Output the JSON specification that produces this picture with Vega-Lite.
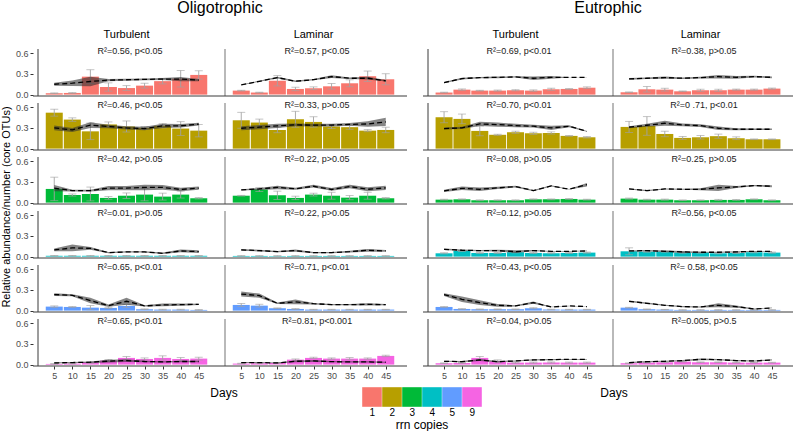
{
"$schema": "https://vega.github.io/schema/vega-lite/v6.json",
"background": "white",
"padding": {"left": 0, "top": 0, "right": 0, "bottom": 0},
"datasets": {"main": [
{"e":"O","f":"Turbulent","r":"1","d":5,"v":0.02,"lo":0.015,"hi":0.025,"m":0.15,"a":0.13,"b":0.17},
{"e":"O","f":"Turbulent","r":"1","d":10,"v":0.024,"lo":0.019,"hi":0.029,"m":0.165,"a":0.125,"b":0.205},
{"e":"O","f":"Turbulent","r":"1","d":15,"v":0.26,"lo":0.16,"hi":0.36,"m":0.19,"a":0.12,"b":0.26},
{"e":"O","f":"Turbulent","r":"1","d":20,"v":0.11,"lo":0.05,"hi":0.17,"m":0.21,"a":0.195,"b":0.225},
{"e":"O","f":"Turbulent","r":"1","d":25,"v":0.095,"lo":0.06,"hi":0.13,"m":0.215,"a":0.2,"b":0.23},
{"e":"O","f":"Turbulent","r":"1","d":30,"v":0.13,"lo":0.095,"hi":0.165,"m":0.22,"a":0.208,"b":0.232},
{"e":"O","f":"Turbulent","r":"1","d":35,"v":0.195,"lo":0.155,"hi":0.235,"m":0.225,"a":0.21,"b":0.24},
{"e":"O","f":"Turbulent","r":"1","d":40,"v":0.23,"lo":0.11,"hi":0.35,"m":0.225,"a":0.195,"b":0.255},
{"e":"O","f":"Turbulent","r":"1","d":45,"v":0.285,"lo":0.225,"hi":0.345,"m":0.21,"a":0.195,"b":0.225},
{"e":"O","f":"Turbulent","r":"2","d":5,"v":0.52,"lo":0.47,"hi":0.57,"m":0.3,"a":0.265,"b":0.335},
{"e":"O","f":"Turbulent","r":"2","d":10,"v":0.42,"lo":0.395,"hi":0.445,"m":0.27,"a":0.24,"b":0.3},
{"e":"O","f":"Turbulent","r":"2","d":15,"v":0.25,"lo":0.13,"hi":0.37,"m":0.34,"a":0.3,"b":0.38},
{"e":"O","f":"Turbulent","r":"2","d":20,"v":0.35,"lo":0.314,"hi":0.386,"m":0.32,"a":0.295,"b":0.345},
{"e":"O","f":"Turbulent","r":"2","d":25,"v":0.32,"lo":0.24,"hi":0.4,"m":0.3,"a":0.275,"b":0.325},
{"e":"O","f":"Turbulent","r":"2","d":30,"v":0.3,"lo":0.28,"hi":0.32,"m":0.29,"a":0.265,"b":0.315},
{"e":"O","f":"Turbulent","r":"2","d":35,"v":0.33,"lo":0.3,"hi":0.36,"m":0.33,"a":0.3,"b":0.36},
{"e":"O","f":"Turbulent","r":"2","d":40,"v":0.29,"lo":0.19,"hi":0.39,"m":0.33,"a":0.305,"b":0.355},
{"e":"O","f":"Turbulent","r":"2","d":45,"v":0.26,"lo":0.17,"hi":0.35,"m":0.355,"a":0.335,"b":0.375},
{"e":"O","f":"Turbulent","r":"3","d":5,"v":0.198,"lo":0.028,"hi":0.368,"m":0.21,"a":0.165,"b":0.255},
{"e":"O","f":"Turbulent","r":"3","d":10,"v":0.11,"lo":0.095,"hi":0.125,"m":0.174,"a":0.162,"b":0.186},
{"e":"O","f":"Turbulent","r":"3","d":15,"v":0.125,"lo":0.025,"hi":0.225,"m":0.174,"a":0.162,"b":0.186},
{"e":"O","f":"Turbulent","r":"3","d":20,"v":0.068,"lo":0.048,"hi":0.088,"m":0.21,"a":0.18,"b":0.24},
{"e":"O","f":"Turbulent","r":"3","d":25,"v":0.1,"lo":0.06,"hi":0.14,"m":0.21,"a":0.18,"b":0.24},
{"e":"O","f":"Turbulent","r":"3","d":30,"v":0.116,"lo":0.026,"hi":0.206,"m":0.22,"a":0.18,"b":0.26},
{"e":"O","f":"Turbulent","r":"3","d":35,"v":0.087,"lo":0.037,"hi":0.137,"m":0.22,"a":0.185,"b":0.255},
{"e":"O","f":"Turbulent","r":"3","d":40,"v":0.116,"lo":0.066,"hi":0.166,"m":0.19,"a":0.165,"b":0.215},
{"e":"O","f":"Turbulent","r":"3","d":45,"v":0.063,"lo":0.053,"hi":0.073,"m":0.21,"a":0.185,"b":0.235},
{"e":"O","f":"Turbulent","r":"4","d":5,"v":0.012,"lo":0.008,"hi":0.016,"m":0.097,"a":0.077,"b":0.117},
{"e":"O","f":"Turbulent","r":"4","d":10,"v":0.012,"lo":0.008,"hi":0.016,"m":0.126,"a":0.076,"b":0.176},
{"e":"O","f":"Turbulent","r":"4","d":15,"v":0.012,"lo":0.008,"hi":0.016,"m":0.12,"a":0.1,"b":0.14},
{"e":"O","f":"Turbulent","r":"4","d":20,"v":0.012,"lo":0.008,"hi":0.016,"m":0.058,"a":0.048,"b":0.068},
{"e":"O","f":"Turbulent","r":"4","d":25,"v":0.012,"lo":0.008,"hi":0.016,"m":0.068,"a":0.058,"b":0.078},
{"e":"O","f":"Turbulent","r":"4","d":30,"v":0.012,"lo":0.008,"hi":0.016,"m":0.068,"a":0.058,"b":0.078},
{"e":"O","f":"Turbulent","r":"4","d":35,"v":0.012,"lo":0.008,"hi":0.016,"m":0.048,"a":0.038,"b":0.058},
{"e":"O","f":"Turbulent","r":"4","d":40,"v":0.012,"lo":0.008,"hi":0.016,"m":0.082,"a":0.062,"b":0.102},
{"e":"O","f":"Turbulent","r":"4","d":45,"v":0.012,"lo":0.008,"hi":0.016,"m":0.072,"a":0.052,"b":0.092},
{"e":"O","f":"Turbulent","r":"5","d":5,"v":0.058,"lo":0.048,"hi":0.068,"m":0.232,"a":0.212,"b":0.252},
{"e":"O","f":"Turbulent","r":"5","d":10,"v":0.053,"lo":0.048,"hi":0.058,"m":0.222,"a":0.207,"b":0.237},
{"e":"O","f":"Turbulent","r":"5","d":15,"v":0.043,"lo":0.013,"hi":0.073,"m":0.145,"a":0.105,"b":0.185},
{"e":"O","f":"Turbulent","r":"5","d":20,"v":0.039,"lo":0.029,"hi":0.049,"m":0.072,"a":0.057,"b":0.087},
{"e":"O","f":"Turbulent","r":"5","d":25,"v":0.068,"lo":0.048,"hi":0.088,"m":0.135,"a":0.085,"b":0.185},
{"e":"O","f":"Turbulent","r":"5","d":30,"v":0.02,"lo":0.015,"hi":0.025,"m":0.068,"a":0.058,"b":0.078},
{"e":"O","f":"Turbulent","r":"5","d":35,"v":0.015,"lo":0.01,"hi":0.02,"m":0.082,"a":0.062,"b":0.102},
{"e":"O","f":"Turbulent","r":"5","d":40,"v":0.015,"lo":0.01,"hi":0.02,"m":0.087,"a":0.072,"b":0.102},
{"e":"O","f":"Turbulent","r":"5","d":45,"v":0.01,"lo":0.005,"hi":0.015,"m":0.09,"a":0.08,"b":0.1},
{"e":"O","f":"Turbulent","r":"9","d":5,"v":0.01,"lo":0.005,"hi":0.015,"m":0.025,"a":0.017,"b":0.033},
{"e":"O","f":"Turbulent","r":"9","d":10,"v":0.015,"lo":0.01,"hi":0.02,"m":0.03,"a":0.022,"b":0.038},
{"e":"O","f":"Turbulent","r":"9","d":15,"v":0.03,"lo":0.02,"hi":0.04,"m":0.035,"a":0.025,"b":0.045},
{"e":"O","f":"Turbulent","r":"9","d":20,"v":0.058,"lo":0.043,"hi":0.073,"m":0.05,"a":0.03,"b":0.07},
{"e":"O","f":"Turbulent","r":"9","d":25,"v":0.097,"lo":0.077,"hi":0.117,"m":0.058,"a":0.038,"b":0.078},
{"e":"O","f":"Turbulent","r":"9","d":30,"v":0.082,"lo":0.067,"hi":0.097,"m":0.045,"a":0.033,"b":0.057},
{"e":"O","f":"Turbulent","r":"9","d":35,"v":0.097,"lo":0.067,"hi":0.127,"m":0.04,"a":0.03,"b":0.05},
{"e":"O","f":"Turbulent","r":"9","d":40,"v":0.082,"lo":0.062,"hi":0.102,"m":0.045,"a":0.035,"b":0.055},
{"e":"O","f":"Turbulent","r":"9","d":45,"v":0.087,"lo":0.067,"hi":0.107,"m":0.045,"a":0.035,"b":0.055},
{"e":"O","f":"Laminar","r":"1","d":5,"v":0.058,"lo":0.053,"hi":0.063,"m":0.14,"a":0.135,"b":0.145},
{"e":"O","f":"Laminar","r":"1","d":10,"v":0.03,"lo":0.025,"hi":0.035,"m":0.193,"a":0.185,"b":0.201},
{"e":"O","f":"Laminar","r":"1","d":15,"v":0.2,"lo":0.125,"hi":0.275,"m":0.246,"a":0.234,"b":0.258},
{"e":"O","f":"Laminar","r":"1","d":20,"v":0.082,"lo":0.057,"hi":0.107,"m":0.193,"a":0.183,"b":0.203},
{"e":"O","f":"Laminar","r":"1","d":25,"v":0.092,"lo":0.072,"hi":0.112,"m":0.217,"a":0.207,"b":0.227},
{"e":"O","f":"Laminar","r":"1","d":30,"v":0.12,"lo":0.08,"hi":0.16,"m":0.26,"a":0.24,"b":0.28},
{"e":"O","f":"Laminar","r":"1","d":35,"v":0.164,"lo":0.114,"hi":0.214,"m":0.237,"a":0.225,"b":0.249},
{"e":"O","f":"Laminar","r":"1","d":40,"v":0.266,"lo":0.191,"hi":0.341,"m":0.237,"a":0.217,"b":0.257},
{"e":"O","f":"Laminar","r":"1","d":45,"v":0.222,"lo":0.142,"hi":0.302,"m":0.2,"a":0.188,"b":0.212},
{"e":"O","f":"Laminar","r":"2","d":5,"v":0.41,"lo":0.295,"hi":0.525,"m":0.295,"a":0.265,"b":0.325},
{"e":"O","f":"Laminar","r":"2","d":10,"v":0.377,"lo":0.327,"hi":0.427,"m":0.31,"a":0.28,"b":0.34},
{"e":"O","f":"Laminar","r":"2","d":15,"v":0.27,"lo":0.23,"hi":0.31,"m":0.33,"a":0.3,"b":0.36},
{"e":"O","f":"Laminar","r":"2","d":20,"v":0.425,"lo":0.31,"hi":0.54,"m":0.343,"a":0.323,"b":0.363},
{"e":"O","f":"Laminar","r":"2","d":25,"v":0.386,"lo":0.311,"hi":0.461,"m":0.34,"a":0.32,"b":0.36},
{"e":"O","f":"Laminar","r":"2","d":30,"v":0.32,"lo":0.29,"hi":0.35,"m":0.34,"a":0.32,"b":0.36},
{"e":"O","f":"Laminar","r":"2","d":35,"v":0.31,"lo":0.28,"hi":0.34,"m":0.35,"a":0.33,"b":0.37},
{"e":"O","f":"Laminar","r":"2","d":40,"v":0.26,"lo":0.245,"hi":0.275,"m":0.357,"a":0.317,"b":0.397},
{"e":"O","f":"Laminar","r":"2","d":45,"v":0.27,"lo":0.23,"hi":0.31,"m":0.386,"a":0.326,"b":0.446},
{"e":"O","f":"Laminar","r":"3","d":5,"v":0.1,"lo":0.095,"hi":0.105,"m":0.184,"a":0.174,"b":0.194},
{"e":"O","f":"Laminar","r":"3","d":10,"v":0.19,"lo":0.16,"hi":0.22,"m":0.198,"a":0.183,"b":0.213},
{"e":"O","f":"Laminar","r":"3","d":15,"v":0.106,"lo":0.046,"hi":0.166,"m":0.22,"a":0.195,"b":0.245},
{"e":"O","f":"Laminar","r":"3","d":20,"v":0.068,"lo":0.043,"hi":0.093,"m":0.2,"a":0.185,"b":0.215},
{"e":"O","f":"Laminar","r":"3","d":25,"v":0.116,"lo":0.096,"hi":0.136,"m":0.237,"a":0.217,"b":0.257},
{"e":"O","f":"Laminar","r":"3","d":30,"v":0.1,"lo":0.05,"hi":0.15,"m":0.19,"a":0.17,"b":0.21},
{"e":"O","f":"Laminar","r":"3","d":35,"v":0.072,"lo":0.042,"hi":0.102,"m":0.232,"a":0.207,"b":0.257},
{"e":"O","f":"Laminar","r":"3","d":40,"v":0.1,"lo":0.05,"hi":0.15,"m":0.193,"a":0.163,"b":0.223},
{"e":"O","f":"Laminar","r":"3","d":45,"v":0.063,"lo":0.053,"hi":0.073,"m":0.213,"a":0.183,"b":0.243},
{"e":"O","f":"Laminar","r":"4","d":5,"v":0.01,"lo":0.006,"hi":0.014,"m":0.097,"a":0.085,"b":0.109},
{"e":"O","f":"Laminar","r":"4","d":10,"v":0.01,"lo":0.006,"hi":0.014,"m":0.087,"a":0.075,"b":0.099},
{"e":"O","f":"Laminar","r":"4","d":15,"v":0.01,"lo":0.006,"hi":0.014,"m":0.072,"a":0.062,"b":0.082},
{"e":"O","f":"Laminar","r":"4","d":20,"v":0.01,"lo":0.006,"hi":0.014,"m":0.087,"a":0.072,"b":0.102},
{"e":"O","f":"Laminar","r":"4","d":25,"v":0.01,"lo":0.006,"hi":0.014,"m":0.058,"a":0.05,"b":0.066},
{"e":"O","f":"Laminar","r":"4","d":30,"v":0.01,"lo":0.006,"hi":0.014,"m":0.058,"a":0.05,"b":0.066},
{"e":"O","f":"Laminar","r":"4","d":35,"v":0.01,"lo":0.006,"hi":0.014,"m":0.072,"a":0.06,"b":0.084},
{"e":"O","f":"Laminar","r":"4","d":40,"v":0.01,"lo":0.006,"hi":0.014,"m":0.092,"a":0.072,"b":0.112},
{"e":"O","f":"Laminar","r":"4","d":45,"v":0.01,"lo":0.006,"hi":0.014,"m":0.082,"a":0.07,"b":0.094},
{"e":"O","f":"Laminar","r":"5","d":5,"v":0.082,"lo":0.062,"hi":0.102,"m":0.24,"a":0.205,"b":0.275},
{"e":"O","f":"Laminar","r":"5","d":10,"v":0.072,"lo":0.052,"hi":0.092,"m":0.217,"a":0.187,"b":0.247},
{"e":"O","f":"Laminar","r":"5","d":15,"v":0.034,"lo":0.029,"hi":0.039,"m":0.106,"a":0.096,"b":0.116},
{"e":"O","f":"Laminar","r":"5","d":20,"v":0.024,"lo":0.019,"hi":0.029,"m":0.126,"a":0.091,"b":0.161},
{"e":"O","f":"Laminar","r":"5","d":25,"v":0.015,"lo":0.011,"hi":0.019,"m":0.1,"a":0.09,"b":0.11},
{"e":"O","f":"Laminar","r":"5","d":30,"v":0.015,"lo":0.011,"hi":0.019,"m":0.087,"a":0.079,"b":0.095},
{"e":"O","f":"Laminar","r":"5","d":35,"v":0.015,"lo":0.011,"hi":0.019,"m":0.087,"a":0.079,"b":0.095},
{"e":"O","f":"Laminar","r":"5","d":40,"v":0.015,"lo":0.011,"hi":0.019,"m":0.09,"a":0.075,"b":0.105},
{"e":"O","f":"Laminar","r":"5","d":45,"v":0.015,"lo":0.011,"hi":0.019,"m":0.087,"a":0.079,"b":0.095},
{"e":"O","f":"Laminar","r":"9","d":5,"v":0.015,"lo":0.01,"hi":0.02,"m":0.03,"a":0.022,"b":0.038},
{"e":"O","f":"Laminar","r":"9","d":10,"v":0.02,"lo":0.015,"hi":0.025,"m":0.03,"a":0.022,"b":0.038},
{"e":"O","f":"Laminar","r":"9","d":15,"v":0.024,"lo":0.019,"hi":0.029,"m":0.024,"a":0.018,"b":0.03},
{"e":"O","f":"Laminar","r":"9","d":20,"v":0.072,"lo":0.062,"hi":0.082,"m":0.048,"a":0.036,"b":0.06},
{"e":"O","f":"Laminar","r":"9","d":25,"v":0.097,"lo":0.087,"hi":0.107,"m":0.053,"a":0.038,"b":0.068},
{"e":"O","f":"Laminar","r":"9","d":30,"v":0.087,"lo":0.077,"hi":0.097,"m":0.043,"a":0.033,"b":0.053},
{"e":"O","f":"Laminar","r":"9","d":35,"v":0.087,"lo":0.072,"hi":0.102,"m":0.039,"a":0.029,"b":0.049},
{"e":"O","f":"Laminar","r":"9","d":40,"v":0.087,"lo":0.077,"hi":0.097,"m":0.039,"a":0.029,"b":0.049},
{"e":"O","f":"Laminar","r":"9","d":45,"v":0.126,"lo":0.116,"hi":0.136,"m":0.034,"a":0.026,"b":0.042},
{"e":"E","f":"Turbulent","r":"1","d":5,"v":0.03,"lo":0.025,"hi":0.035,"m":0.174,"a":0.166,"b":0.182},
{"e":"E","f":"Turbulent","r":"1","d":10,"v":0.072,"lo":0.062,"hi":0.082,"m":0.232,"a":0.22,"b":0.244},
{"e":"E","f":"Turbulent","r":"1","d":15,"v":0.058,"lo":0.053,"hi":0.063,"m":0.246,"a":0.236,"b":0.256},
{"e":"E","f":"Turbulent","r":"1","d":20,"v":0.058,"lo":0.05,"hi":0.066,"m":0.25,"a":0.238,"b":0.262},
{"e":"E","f":"Turbulent","r":"1","d":25,"v":0.063,"lo":0.055,"hi":0.071,"m":0.256,"a":0.248,"b":0.264},
{"e":"E","f":"Turbulent","r":"1","d":30,"v":0.058,"lo":0.048,"hi":0.068,"m":0.237,"a":0.212,"b":0.262},
{"e":"E","f":"Turbulent","r":"1","d":35,"v":0.077,"lo":0.062,"hi":0.092,"m":0.25,"a":0.23,"b":0.27},
{"e":"E","f":"Turbulent","r":"1","d":40,"v":0.082,"lo":0.077,"hi":0.087,"m":0.25,"a":0.247,"b":0.253},
{"e":"E","f":"Turbulent","r":"1","d":45,"v":0.1,"lo":0.088,"hi":0.112,"m":0.25,"a":0.247,"b":0.253},
{"e":"E","f":"Turbulent","r":"2","d":5,"v":0.454,"lo":0.374,"hi":0.534,"m":0.29,"a":0.275,"b":0.305},
{"e":"E","f":"Turbulent","r":"2","d":10,"v":0.43,"lo":0.36,"hi":0.5,"m":0.3,"a":0.285,"b":0.315},
{"e":"E","f":"Turbulent","r":"2","d":15,"v":0.256,"lo":0.186,"hi":0.326,"m":0.357,"a":0.327,"b":0.387},
{"e":"E","f":"Turbulent","r":"2","d":20,"v":0.2,"lo":0.192,"hi":0.208,"m":0.348,"a":0.318,"b":0.378},
{"e":"E","f":"Turbulent","r":"2","d":25,"v":0.237,"lo":0.222,"hi":0.252,"m":0.333,"a":0.308,"b":0.358},
{"e":"E","f":"Turbulent","r":"2","d":30,"v":0.222,"lo":0.207,"hi":0.237,"m":0.324,"a":0.304,"b":0.344},
{"e":"E","f":"Turbulent","r":"2","d":35,"v":0.227,"lo":0.212,"hi":0.242,"m":0.3,"a":0.27,"b":0.33},
{"e":"E","f":"Turbulent","r":"2","d":40,"v":0.184,"lo":0.179,"hi":0.189,"m":0.324,"a":0.309,"b":0.339},
{"e":"E","f":"Turbulent","r":"2","d":45,"v":0.164,"lo":0.154,"hi":0.174,"m":0.25,"a":0.245,"b":0.255},
{"e":"E","f":"Turbulent","r":"3","d":5,"v":0.043,"lo":0.037,"hi":0.049,"m":0.17,"a":0.155,"b":0.185},
{"e":"E","f":"Turbulent","r":"3","d":10,"v":0.048,"lo":0.042,"hi":0.054,"m":0.207,"a":0.182,"b":0.232},
{"e":"E","f":"Turbulent","r":"3","d":15,"v":0.034,"lo":0.028,"hi":0.04,"m":0.193,"a":0.168,"b":0.218},
{"e":"E","f":"Turbulent","r":"3","d":20,"v":0.034,"lo":0.028,"hi":0.04,"m":0.213,"a":0.198,"b":0.228},
{"e":"E","f":"Turbulent","r":"3","d":25,"v":0.034,"lo":0.028,"hi":0.04,"m":0.232,"a":0.22,"b":0.244},
{"e":"E","f":"Turbulent","r":"3","d":30,"v":0.048,"lo":0.042,"hi":0.054,"m":0.174,"a":0.166,"b":0.182},
{"e":"E","f":"Turbulent","r":"3","d":35,"v":0.048,"lo":0.042,"hi":0.054,"m":0.242,"a":0.234,"b":0.25},
{"e":"E","f":"Turbulent","r":"3","d":40,"v":0.053,"lo":0.047,"hi":0.059,"m":0.193,"a":0.188,"b":0.198},
{"e":"E","f":"Turbulent","r":"3","d":45,"v":0.043,"lo":0.037,"hi":0.049,"m":0.26,"a":0.235,"b":0.285},
{"e":"E","f":"Turbulent","r":"4","d":5,"v":0.048,"lo":0.04,"hi":0.056,"m":0.106,"a":0.094,"b":0.118},
{"e":"E","f":"Turbulent","r":"4","d":10,"v":0.082,"lo":0.074,"hi":0.09,"m":0.092,"a":0.082,"b":0.102},
{"e":"E","f":"Turbulent","r":"4","d":15,"v":0.053,"lo":0.045,"hi":0.061,"m":0.087,"a":0.077,"b":0.097},
{"e":"E","f":"Turbulent","r":"4","d":20,"v":0.053,"lo":0.045,"hi":0.061,"m":0.087,"a":0.075,"b":0.099},
{"e":"E","f":"Turbulent","r":"4","d":25,"v":0.063,"lo":0.055,"hi":0.071,"m":0.072,"a":0.052,"b":0.092},
{"e":"E","f":"Turbulent","r":"4","d":30,"v":0.053,"lo":0.045,"hi":0.061,"m":0.087,"a":0.079,"b":0.095},
{"e":"E","f":"Turbulent","r":"4","d":35,"v":0.048,"lo":0.04,"hi":0.056,"m":0.077,"a":0.071,"b":0.083},
{"e":"E","f":"Turbulent","r":"4","d":40,"v":0.053,"lo":0.045,"hi":0.061,"m":0.077,"a":0.071,"b":0.083},
{"e":"E","f":"Turbulent","r":"4","d":45,"v":0.058,"lo":0.05,"hi":0.066,"m":0.082,"a":0.076,"b":0.088},
{"e":"E","f":"Turbulent","r":"5","d":5,"v":0.053,"lo":0.048,"hi":0.058,"m":0.232,"a":0.212,"b":0.252},
{"e":"E","f":"Turbulent","r":"5","d":10,"v":0.024,"lo":0.02,"hi":0.028,"m":0.164,"a":0.124,"b":0.204},
{"e":"E","f":"Turbulent","r":"5","d":15,"v":0.02,"lo":0.016,"hi":0.024,"m":0.116,"a":0.081,"b":0.151},
{"e":"E","f":"Turbulent","r":"5","d":20,"v":0.02,"lo":0.016,"hi":0.024,"m":0.077,"a":0.057,"b":0.097},
{"e":"E","f":"Turbulent","r":"5","d":25,"v":0.02,"lo":0.016,"hi":0.024,"m":0.068,"a":0.058,"b":0.078},
{"e":"E","f":"Turbulent","r":"5","d":30,"v":0.034,"lo":0.026,"hi":0.042,"m":0.116,"a":0.101,"b":0.131},
{"e":"E","f":"Turbulent","r":"5","d":35,"v":0.015,"lo":0.011,"hi":0.019,"m":0.053,"a":0.05,"b":0.056},
{"e":"E","f":"Turbulent","r":"5","d":40,"v":0.015,"lo":0.011,"hi":0.019,"m":0.068,"a":0.065,"b":0.071},
{"e":"E","f":"Turbulent","r":"5","d":45,"v":0.015,"lo":0.011,"hi":0.019,"m":0.058,"a":0.055,"b":0.061},
{"e":"E","f":"Turbulent","r":"9","d":5,"v":0.02,"lo":0.015,"hi":0.025,"m":0.048,"a":0.04,"b":0.056},
{"e":"E","f":"Turbulent","r":"9","d":10,"v":0.024,"lo":0.019,"hi":0.029,"m":0.043,"a":0.035,"b":0.051},
{"e":"E","f":"Turbulent","r":"9","d":15,"v":0.097,"lo":0.077,"hi":0.117,"m":0.068,"a":0.053,"b":0.083},
{"e":"E","f":"Turbulent","r":"9","d":20,"v":0.048,"lo":0.028,"hi":0.068,"m":0.043,"a":0.033,"b":0.053},
{"e":"E","f":"Turbulent","r":"9","d":25,"v":0.029,"lo":0.021,"hi":0.037,"m":0.053,"a":0.045,"b":0.061},
{"e":"E","f":"Turbulent","r":"9","d":30,"v":0.029,"lo":0.021,"hi":0.037,"m":0.068,"a":0.058,"b":0.078},
{"e":"E","f":"Turbulent","r":"9","d":35,"v":0.029,"lo":0.021,"hi":0.037,"m":0.072,"a":0.064,"b":0.08},
{"e":"E","f":"Turbulent","r":"9","d":40,"v":0.029,"lo":0.021,"hi":0.037,"m":0.077,"a":0.071,"b":0.083},
{"e":"E","f":"Turbulent","r":"9","d":45,"v":0.029,"lo":0.021,"hi":0.037,"m":0.077,"a":0.071,"b":0.083},
{"e":"E","f":"Laminar","r":"1","d":5,"v":0.034,"lo":0.029,"hi":0.039,"m":0.227,"a":0.215,"b":0.239},
{"e":"E","f":"Laminar","r":"1","d":10,"v":0.077,"lo":0.037,"hi":0.117,"m":0.237,"a":0.227,"b":0.247},
{"e":"E","f":"Laminar","r":"1","d":15,"v":0.072,"lo":0.052,"hi":0.092,"m":0.246,"a":0.231,"b":0.261},
{"e":"E","f":"Laminar","r":"1","d":20,"v":0.048,"lo":0.043,"hi":0.053,"m":0.237,"a":0.227,"b":0.247},
{"e":"E","f":"Laminar","r":"1","d":25,"v":0.063,"lo":0.048,"hi":0.078,"m":0.246,"a":0.234,"b":0.258},
{"e":"E","f":"Laminar","r":"1","d":30,"v":0.063,"lo":0.048,"hi":0.078,"m":0.26,"a":0.235,"b":0.285},
{"e":"E","f":"Laminar","r":"1","d":35,"v":0.072,"lo":0.064,"hi":0.08,"m":0.25,"a":0.23,"b":0.27},
{"e":"E","f":"Laminar","r":"1","d":40,"v":0.072,"lo":0.064,"hi":0.08,"m":0.26,"a":0.248,"b":0.272},
{"e":"E","f":"Laminar","r":"1","d":45,"v":0.087,"lo":0.079,"hi":0.095,"m":0.25,"a":0.238,"b":0.262},
{"e":"E","f":"Laminar","r":"2","d":5,"v":0.314,"lo":0.234,"hi":0.394,"m":0.31,"a":0.295,"b":0.325},
{"e":"E","f":"Laminar","r":"2","d":10,"v":0.328,"lo":0.193,"hi":0.463,"m":0.338,"a":0.318,"b":0.358},
{"e":"E","f":"Laminar","r":"2","d":15,"v":0.212,"lo":0.172,"hi":0.252,"m":0.367,"a":0.332,"b":0.402},
{"e":"E","f":"Laminar","r":"2","d":20,"v":0.155,"lo":0.135,"hi":0.175,"m":0.343,"a":0.323,"b":0.363},
{"e":"E","f":"Laminar","r":"2","d":25,"v":0.164,"lo":0.139,"hi":0.189,"m":0.333,"a":0.313,"b":0.353},
{"e":"E","f":"Laminar","r":"2","d":30,"v":0.18,"lo":0.15,"hi":0.21,"m":0.295,"a":0.27,"b":0.32},
{"e":"E","f":"Laminar","r":"2","d":35,"v":0.15,"lo":0.13,"hi":0.17,"m":0.28,"a":0.265,"b":0.295},
{"e":"E","f":"Laminar","r":"2","d":40,"v":0.135,"lo":0.13,"hi":0.14,"m":0.28,"a":0.27,"b":0.29},
{"e":"E","f":"Laminar","r":"2","d":45,"v":0.135,"lo":0.13,"hi":0.14,"m":0.28,"a":0.27,"b":0.29},
{"e":"E","f":"Laminar","r":"3","d":5,"v":0.058,"lo":0.05,"hi":0.066,"m":0.198,"a":0.19,"b":0.206},
{"e":"E","f":"Laminar","r":"3","d":10,"v":0.043,"lo":0.037,"hi":0.049,"m":0.174,"a":0.166,"b":0.182},
{"e":"E","f":"Laminar","r":"3","d":15,"v":0.043,"lo":0.035,"hi":0.051,"m":0.198,"a":0.19,"b":0.206},
{"e":"E","f":"Laminar","r":"3","d":20,"v":0.034,"lo":0.029,"hi":0.039,"m":0.193,"a":0.185,"b":0.201},
{"e":"E","f":"Laminar","r":"3","d":25,"v":0.034,"lo":0.029,"hi":0.039,"m":0.193,"a":0.178,"b":0.208},
{"e":"E","f":"Laminar","r":"3","d":30,"v":0.039,"lo":0.031,"hi":0.047,"m":0.213,"a":0.168,"b":0.258},
{"e":"E","f":"Laminar","r":"3","d":35,"v":0.039,"lo":0.033,"hi":0.045,"m":0.227,"a":0.212,"b":0.242},
{"e":"E","f":"Laminar","r":"3","d":40,"v":0.048,"lo":0.042,"hi":0.054,"m":0.246,"a":0.236,"b":0.256},
{"e":"E","f":"Laminar","r":"3","d":45,"v":0.034,"lo":0.028,"hi":0.04,"m":0.237,"a":0.222,"b":0.252},
{"e":"E","f":"Laminar","r":"4","d":5,"v":0.077,"lo":0.027,"hi":0.127,"m":0.082,"a":0.074,"b":0.09},
{"e":"E","f":"Laminar","r":"4","d":10,"v":0.072,"lo":0.064,"hi":0.08,"m":0.087,"a":0.079,"b":0.095},
{"e":"E","f":"Laminar","r":"4","d":15,"v":0.072,"lo":0.064,"hi":0.08,"m":0.077,"a":0.067,"b":0.087},
{"e":"E","f":"Laminar","r":"4","d":20,"v":0.058,"lo":0.05,"hi":0.066,"m":0.068,"a":0.053,"b":0.083},
{"e":"E","f":"Laminar","r":"4","d":25,"v":0.058,"lo":0.05,"hi":0.066,"m":0.063,"a":0.055,"b":0.071},
{"e":"E","f":"Laminar","r":"4","d":30,"v":0.048,"lo":0.04,"hi":0.056,"m":0.063,"a":0.055,"b":0.071},
{"e":"E","f":"Laminar","r":"4","d":35,"v":0.053,"lo":0.045,"hi":0.061,"m":0.068,"a":0.06,"b":0.076},
{"e":"E","f":"Laminar","r":"4","d":40,"v":0.063,"lo":0.055,"hi":0.071,"m":0.077,"a":0.071,"b":0.083},
{"e":"E","f":"Laminar","r":"4","d":45,"v":0.058,"lo":0.05,"hi":0.066,"m":0.077,"a":0.071,"b":0.083},
{"e":"E","f":"Laminar","r":"5","d":5,"v":0.043,"lo":0.038,"hi":0.048,"m":0.135,"a":0.125,"b":0.145},
{"e":"E","f":"Laminar","r":"5","d":10,"v":0.02,"lo":0.016,"hi":0.024,"m":0.106,"a":0.096,"b":0.116},
{"e":"E","f":"Laminar","r":"5","d":15,"v":0.015,"lo":0.012,"hi":0.018,"m":0.077,"a":0.069,"b":0.085},
{"e":"E","f":"Laminar","r":"5","d":20,"v":0.01,"lo":0.007,"hi":0.013,"m":0.058,"a":0.05,"b":0.066},
{"e":"E","f":"Laminar","r":"5","d":25,"v":0.01,"lo":0.007,"hi":0.013,"m":0.053,"a":0.045,"b":0.061},
{"e":"E","f":"Laminar","r":"5","d":30,"v":0.01,"lo":0.007,"hi":0.013,"m":0.077,"a":0.047,"b":0.107},
{"e":"E","f":"Laminar","r":"5","d":35,"v":0.01,"lo":0.007,"hi":0.013,"m":0.058,"a":0.043,"b":0.073},
{"e":"E","f":"Laminar","r":"5","d":40,"v":0.01,"lo":0.007,"hi":0.013,"m":0.024,"a":0.019,"b":0.029},
{"e":"E","f":"Laminar","r":"5","d":45,"v":0.01,"lo":0.007,"hi":0.013,"m":0.039,"a":0.034,"b":0.044},
{"e":"E","f":"Laminar","r":"9","d":5,"v":0.02,"lo":0.015,"hi":0.025,"m":0.029,"a":0.021,"b":0.037},
{"e":"E","f":"Laminar","r":"9","d":10,"v":0.029,"lo":0.024,"hi":0.034,"m":0.043,"a":0.035,"b":0.051},
{"e":"E","f":"Laminar","r":"9","d":15,"v":0.034,"lo":0.029,"hi":0.039,"m":0.048,"a":0.04,"b":0.056},
{"e":"E","f":"Laminar","r":"9","d":20,"v":0.043,"lo":0.038,"hi":0.048,"m":0.058,"a":0.048,"b":0.068},
{"e":"E","f":"Laminar","r":"9","d":25,"v":0.034,"lo":0.029,"hi":0.039,"m":0.077,"a":0.065,"b":0.089},
{"e":"E","f":"Laminar","r":"9","d":30,"v":0.034,"lo":0.029,"hi":0.039,"m":0.072,"a":0.062,"b":0.082},
{"e":"E","f":"Laminar","r":"9","d":35,"v":0.029,"lo":0.024,"hi":0.034,"m":0.058,"a":0.048,"b":0.068},
{"e":"E","f":"Laminar","r":"9","d":40,"v":0.029,"lo":0.024,"hi":0.034,"m":0.053,"a":0.045,"b":0.061},
{"e":"E","f":"Laminar","r":"9","d":45,"v":0.029,"lo":0.024,"hi":0.034,"m":0.068,"a":0.06,"b":0.076},
{"e":"O","f":"Turbulent","r":"1","t":"R²=0.56, p<0.05"},
{"e":"O","f":"Turbulent","r":"2","t":"R²=0.46, p<0.05"},
{"e":"O","f":"Turbulent","r":"3","t":"R²=0.42, p>0.05"},
{"e":"O","f":"Turbulent","r":"4","t":"R²=0.01, p>0.05"},
{"e":"O","f":"Turbulent","r":"5","t":"R²=0.65, p<0.01"},
{"e":"O","f":"Turbulent","r":"9","t":"R²=0.65, p<0.01"},
{"e":"O","f":"Laminar","r":"1","t":"R²=0.57, p<0.05"},
{"e":"O","f":"Laminar","r":"2","t":"R²=0.33, p>0.05"},
{"e":"O","f":"Laminar","r":"3","t":"R²=0.22, p>0.05"},
{"e":"O","f":"Laminar","r":"4","t":"R²=0.22, p>0.05"},
{"e":"O","f":"Laminar","r":"5","t":"R²=0.71, p<0.01"},
{"e":"O","f":"Laminar","r":"9","t":"R²=0.81, p<0.001"},
{"e":"E","f":"Turbulent","r":"1","t":"R²=0.69, p<0.01"},
{"e":"E","f":"Turbulent","r":"2","t":"R²=0.70, p<0.01"},
{"e":"E","f":"Turbulent","r":"3","t":"R²=0.08, p>0.05"},
{"e":"E","f":"Turbulent","r":"4","t":"R²=0.12, p>0.05"},
{"e":"E","f":"Turbulent","r":"5","t":"R²=0.43, p<0.05"},
{"e":"E","f":"Turbulent","r":"9","t":"R²=0.04, p>0.05"},
{"e":"E","f":"Laminar","r":"1","t":"R²=0.38, p>0.05"},
{"e":"E","f":"Laminar","r":"2","t":"R²=0 .71, p<0.01"},
{"e":"E","f":"Laminar","r":"3","t":"R²=0.25, p>0.05"},
{"e":"E","f":"Laminar","r":"4","t":"R²=0.56, p<0.05"},
{"e":"E","f":"Laminar","r":"5","t":"R²= 0.58, p<0.05"},
{"e":"E","f":"Laminar","r":"9","t":"R²=0.005, p>0.5"}
]},
"hconcat": [
{
 "data": {"name": "main"},
 "transform": [{"filter": "datum.e == 'O'"}],
 "title": {"text": "Days", "orient": "bottom", "anchor": "middle", "frame": "group", "fontSize": 12, "fontWeight": "normal", "offset": 8, "dx": 191},
 "bounds": "flush",
 "facet": {
  "row": {"field": "r", "type": "nominal", "header": {"labels": false, "labelPadding": 0, "title": "Relative abundance/number (core OTUs)", "titleFontSize": 11, "titleFontWeight": "normal", "titlePadding": -7}},
  "column": {"field": "f", "type": "nominal", "sort": ["Turbulent", "Laminar"], "header": {"title": "Oligotrophic", "titleFontSize": 16, "titleFontWeight": "normal", "labelFontSize": 11, "labelPadding": 9, "titlePadding": 3}}
 },
 "spacing": {"row": 7, "column": 0},
 "spec": {
  "width": 187, "height": 47,
  "layer": [
   {"transform": [{"filter": "!isValid(datum.t)"}],
    "mark": {"type": "bar", "size": 17},
    "encoding": {
     "x": {"field": "d", "type": "quantitative", "title": null, "scale": {"domain": [0.5, 49.5], "nice": false, "zero": false}, "axis": {"values": [5,10,15,20,25,30,35,40,45], "tickCount": 20, "title": null, "labelOverlap": false, "labelFlush": false}},
     "y": {"field": "v", "type": "quantitative", "title": null, "scale": {"domain": [-0.02, 0.66], "nice": false, "zero": false}, "axis": {"values": [0, 0.3, 0.6], "tickCount": 10, "format": ".1f", "title": null, "labelOverlap": false, "labelFlush": false}},
     "y2": {"datum": 0},
     "color": {"field": "r", "type": "nominal", "scale": {"domain": ["1","2","3","4","5","9"], "range": ["#F8766D","#B79F00","#00BA38","#00BFC4","#619CFF","#F564E3"]},
      "legend": {"orient": "none", "legendX": 329, "legendY": 338, "direction": "horizontal", "title": "rrn copies", "titleOrient": "bottom", "titleAnchor": "middle", "titleFontSize": 12, "titleFontWeight": "normal", "titlePadding": 2, "labelFontSize": 10, "labelAlign": "center", "labelOffset": -9.8, "symbolType": "square", "symbolSize": 384, "symbolStrokeWidth": 0, "symbolOpacity": 1, "columnPadding": 0, "encoding": {"labels": {"dy": {"value": 16}}}}}
    }},
   {"transform": [{"filter": "!isValid(datum.t)"}],
    "mark": {"type": "errorbar", "color": "#a3a3a3", "thickness": 0.9, "ticks": {"size": 8, "color": "#a3a3a3"}},
    "encoding": {
     "x": {"field": "d", "type": "quantitative", "title": null, "axis": {"values": [5,10,15,20,25,30,35,40,45], "tickCount": 20, "title": null, "labelOverlap": false, "labelFlush": false}},
     "y": {"field": "lo", "type": "quantitative", "title": null, "axis": {"values": [0, 0.3, 0.6], "tickCount": 10, "format": ".1f", "title": null, "labelOverlap": false, "labelFlush": false}},
     "y2": {"field": "hi"}
    }},
   {"transform": [{"filter": "!isValid(datum.t)"}],
    "mark": {"type": "area", "color": "#333333", "opacity": 0.6},
    "encoding": {
     "x": {"field": "d", "type": "quantitative", "title": null, "axis": {"values": [5,10,15,20,25,30,35,40,45], "tickCount": 20, "title": null, "labelOverlap": false, "labelFlush": false}},
     "y": {"field": "a", "type": "quantitative", "title": null, "axis": {"values": [0, 0.3, 0.6], "tickCount": 10, "format": ".1f", "title": null, "labelOverlap": false, "labelFlush": false}},
     "y2": {"field": "b"}
    }},
   {"transform": [{"filter": "!isValid(datum.t)"}],
    "mark": {"type": "line", "color": "black", "strokeWidth": 1.3, "strokeDash": [5, 3]},
    "encoding": {
     "x": {"field": "d", "type": "quantitative", "title": null, "axis": {"values": [5,10,15,20,25,30,35,40,45], "tickCount": 20, "title": null, "labelOverlap": false, "labelFlush": false}},
     "y": {"field": "m", "type": "quantitative", "title": null, "axis": {"values": [0, 0.3, 0.6], "tickCount": 10, "format": ".1f", "title": null, "labelOverlap": false, "labelFlush": false}}
    }},
   {"transform": [{"filter": "isValid(datum.t)"}],
    "mark": {"type": "text", "fontSize": 9, "color": "#1a1a1a", "baseline": "middle", "align": "center"},
    "encoding": {"x": {"datum": 26}, "y": {"datum": 0.625}, "text": {"field": "t"}}},
   {"transform": [{"filter": "isValid(datum.t)"}],
    "mark": {"type": "rule"},
    "encoding": {"x": {"datum": 0.5},
     "stroke": {"condition": {"test": "datum.f == 'Laminar'", "value": "#a8a8a8"}, "value": "#3a3a3a"},
     "strokeWidth": {"condition": {"test": "datum.f == 'Laminar'", "value": 1.6}, "value": 1}}},
   {"transform": [{"filter": "isValid(datum.t)"}],
    "mark": {"type": "rule", "color": "#3a3a3a", "strokeWidth": 1},
    "encoding": {"y": {"datum": -0.02}}}
  ]
 }
},
{
 "data": {"name": "main"},
 "transform": [{"filter": "datum.e == 'E'"}],
 "title": {"text": "Days", "orient": "bottom", "anchor": "middle", "frame": "group", "fontSize": 12, "fontWeight": "normal", "offset": 8, "dx": 191},
 "bounds": "flush",
 "facet": {
  "row": {"field": "r", "type": "nominal", "header": {"labels": false, "labelPadding": 0, "title": null, "titlePadding": 0}},
  "column": {"field": "f", "type": "nominal", "sort": ["Turbulent", "Laminar"], "header": {"title": "Eutrophic", "titleFontSize": 16, "titleFontWeight": "normal", "labelFontSize": 11, "labelPadding": 9, "titlePadding": 3}}
 },
 "spacing": {"row": 7, "column": 0},
 "spec": {
  "width": 185, "height": 47,
  "layer": [
   {"transform": [{"filter": "!isValid(datum.t)"}],
    "mark": {"type": "bar", "size": 17},
    "encoding": {
     "x": {"field": "d", "type": "quantitative", "title": null, "scale": {"domain": [0.5, 49.5], "nice": false, "zero": false}, "axis": {"values": [5,10,15,20,25,30,35,40,45], "tickCount": 20, "title": null, "labelOverlap": false, "labelFlush": false}},
     "y": {"field": "v", "type": "quantitative", "title": null, "scale": {"domain": [-0.02, 0.66], "nice": false, "zero": false}, "axis": null},
     "y2": {"datum": 0},
     "color": {"field": "r", "type": "nominal", "scale": {"domain": ["1","2","3","4","5","9"], "range": ["#F8766D","#B79F00","#00BA38","#00BFC4","#619CFF","#F564E3"]},
      "legend": {"orient": "none", "legendX": 329, "legendY": 338, "direction": "horizontal", "title": "rrn copies", "titleOrient": "bottom", "titleAnchor": "middle", "titleFontSize": 12, "titleFontWeight": "normal", "titlePadding": 2, "labelFontSize": 10, "labelAlign": "center", "labelOffset": -9.8, "symbolType": "square", "symbolSize": 384, "symbolStrokeWidth": 0, "symbolOpacity": 1, "columnPadding": 0, "encoding": {"labels": {"dy": {"value": 16}}}}}
    }},
   {"transform": [{"filter": "!isValid(datum.t)"}],
    "mark": {"type": "errorbar", "color": "#a3a3a3", "thickness": 0.9, "ticks": {"size": 8, "color": "#a3a3a3"}},
    "encoding": {
     "x": {"field": "d", "type": "quantitative", "title": null, "axis": {"values": [5,10,15,20,25,30,35,40,45], "tickCount": 20, "title": null, "labelOverlap": false, "labelFlush": false}},
     "y": {"field": "lo", "type": "quantitative", "title": null, "axis": null},
     "y2": {"field": "hi"}
    }},
   {"transform": [{"filter": "!isValid(datum.t)"}],
    "mark": {"type": "area", "color": "#333333", "opacity": 0.6},
    "encoding": {
     "x": {"field": "d", "type": "quantitative", "title": null, "axis": {"values": [5,10,15,20,25,30,35,40,45], "tickCount": 20, "title": null, "labelOverlap": false, "labelFlush": false}},
     "y": {"field": "a", "type": "quantitative", "title": null, "axis": null},
     "y2": {"field": "b"}
    }},
   {"transform": [{"filter": "!isValid(datum.t)"}],
    "mark": {"type": "line", "color": "black", "strokeWidth": 1.3, "strokeDash": [5, 3]},
    "encoding": {
     "x": {"field": "d", "type": "quantitative", "title": null, "axis": {"values": [5,10,15,20,25,30,35,40,45], "tickCount": 20, "title": null, "labelOverlap": false, "labelFlush": false}},
     "y": {"field": "m", "type": "quantitative", "title": null, "axis": null}
    }},
   {"transform": [{"filter": "isValid(datum.t)"}],
    "mark": {"type": "text", "fontSize": 9, "color": "#1a1a1a", "baseline": "middle", "align": "center"},
    "encoding": {"x": {"datum": 26}, "y": {"datum": 0.625, "axis": null}, "text": {"field": "t"}}},
   {"transform": [{"filter": "isValid(datum.t)"}],
    "mark": {"type": "rule"},
    "encoding": {"x": {"datum": 0.5},
     "stroke": {"condition": {"test": "datum.f == 'Laminar'", "value": "#a8a8a8"}, "value": "#3a3a3a"},
     "strokeWidth": {"condition": {"test": "datum.f == 'Laminar'", "value": 1.6}, "value": 1}}},
   {"transform": [{"filter": "isValid(datum.t)"}],
    "mark": {"type": "rule", "color": "#3a3a3a", "strokeWidth": 1},
    "encoding": {"y": {"datum": -0.02, "axis": null}}}
  ]
 }
}
],
"spacing": 14,
"resolve": {"scale": {"color": "shared"}},
"config": {
 "font": "Liberation Sans",
 "view": {"stroke": null},
 "axis": {"domain": false, "grid": false, "labelFontSize": 9, "labelColor": "#4d4d4d", "tickColor": "#333333", "tickSize": 3, "labelPadding": 2, "labelFont": "Liberation Sans", "labelOverlap": false, "labelFlush": false},
 "header": {"labelFont": "Liberation Sans", "titleFont": "Liberation Sans", "labelColor": "black", "titleColor": "black"},
 "title": {"font": "Liberation Sans", "color": "black"},
 "legend": {"labelFont": "Liberation Sans", "titleFont": "Liberation Sans", "labelColor": "black", "titleColor": "black"}
}
}
